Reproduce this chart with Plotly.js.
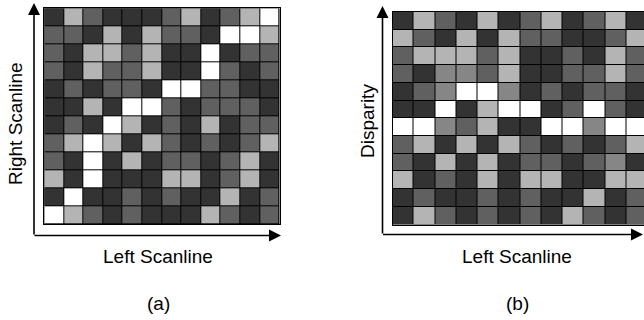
<!DOCTYPE html>
<html>
<head>
<meta charset="utf-8">
<script src="https://cdn.plot.ly/plotly-3.0.1.min.js"></script>
<style>html,body{margin:0;padding:0;background:#fff;}#chart{width:644px;height:320px;}</style>
</head>
<body>
<div id="chart"></div>
<script>
// Levels: 0 = dark, 1 = medium, 2 = mid-gray, 3 = light, 4 = white
var levelColors = ['#333333', '#606060', '#868686', '#b4b4b4', '#ffffff'];

// Panel (a): rows listed top to bottom
var gridA = [
  [0,3,1,0,0,0,1,3,0,1,3,4],
  [1,1,0,3,0,3,1,1,0,4,4,3],
  [1,0,3,3,1,3,0,0,4,0,1,1],
  [1,0,3,1,1,3,0,0,4,1,0,1],
  [0,1,0,1,1,0,4,4,1,1,0,0],
  [0,0,3,0,4,4,1,0,1,1,1,0],
  [0,1,0,4,3,0,1,0,3,0,1,1],
  [1,3,4,3,0,3,1,0,1,0,1,3],
  [1,0,4,0,3,0,1,1,0,1,3,0],
  [3,0,4,0,0,0,3,3,0,1,3,0],
  [0,4,0,0,1,0,1,0,0,3,0,1],
  [4,3,1,0,1,0,0,0,3,1,0,1]
];

// Panel (b): rows listed top to bottom
var gridB = [
  [0,3,1,0,3,0,1,3,0,1,3,0],
  [3,1,0,3,0,3,1,1,0,0,1,3],
  [1,3,3,3,1,3,0,0,1,0,3,1],
  [1,0,2,2,1,3,0,0,1,1,3,1],
  [0,1,2,4,4,2,0,1,0,1,1,0],
  [0,0,4,0,3,4,4,0,1,4,1,0],
  [4,4,2,1,3,0,0,4,4,2,4,4],
  [1,3,0,3,0,3,1,0,1,0,1,3],
  [1,0,3,0,3,0,1,1,0,1,2,0],
  [3,0,1,0,3,0,3,3,0,0,3,3],
  [0,1,0,0,1,0,1,0,0,3,0,1],
  [0,3,1,0,1,0,1,0,3,1,0,1]
];

var xLabel = 'Left Scanline';
var yLabelA = 'Right Scanline';
var yLabelB = 'Disparity';
var panelLabels = ['(a)', '(b)'];

var W = 644, H = 320;
function px(x){ return x / W; }
function py(y){ return 1 - y / H; }

var colorscale = levelColors.map(function(c, i){ return [i / (levelColors.length - 1), c]; });

var traces = [
  {type:'heatmap', z:gridA, xaxis:'x', yaxis:'y', colorscale:colorscale, zmin:0, zmax:4,
   showscale:false, xgap:1, ygap:1, hoverinfo:'skip'},
  {type:'heatmap', z:gridB, xaxis:'x2', yaxis:'y2', colorscale:colorscale, zmin:0, zmax:4,
   showscale:false, xgap:1, ygap:1, hoverinfo:'skip'}
];

function ax(domain, range){
  return {domain:domain, range:range, showgrid:false, zeroline:false, showticklabels:false,
          ticks:'', showline:true, mirror:true, linecolor:'#000', linewidth:1, fixedrange:true};
}

var font = {family:'Liberation Sans, Arial, sans-serif', size:19, color:'#000'};

function arrow(x0, y0, x1, y1){
  return {xref:'paper', yref:'paper', x:px(x1), y:py(y1), ax:x0 - x1, ay:y0 - y1,
          axref:'pixel', ayref:'pixel', text:'', showarrow:true, arrowhead:2,
          arrowsize:1.5, arrowwidth:1.6, arrowcolor:'#000', standoff:0, startstandoff:0};
}
function label(text, x, y, angle){
  return {xref:'paper', yref:'paper', x:px(x), y:py(y), text:text, showarrow:false,
          xanchor:'center', yanchor:'middle', textangle:angle || 0, font:font};
}

var layout = {
  width:W, height:H, margin:{l:0, r:0, t:0, b:0},
  paper_bgcolor:'#fff', plot_bgcolor:'#000', showlegend:false,
  xaxis: ax([px(44.3), px(279.5)], [-0.5, 11.5]),
  yaxis: ax([py(224.3), py(8.3)], [11.5, -0.5]),
  xaxis2: ax([px(392.5), 1], [-0.5, 11.33]),
  yaxis2: ax([py(224.5), py(12)], [11.5, -0.5]),
  annotations: [
    arrow(34, 236, 34, 3),
    arrow(33, 235.5, 281, 235.5),
    arrow(382.5, 235, 382.5, 6),
    arrow(381.5, 234.5, 643, 234.5),
    label(yLabelA, 16, 124, -90),
    label(yLabelB, 367, 121, -90),
    label(xLabel, 158, 256),
    label(xLabel, 517, 256),
    label(panelLabels[0], 158, 303),
    label(panelLabels[1], 517, 303)
  ]
};
layout.yaxis2.anchor = 'x2';
layout.xaxis2.anchor = 'y2';

Plotly.newPlot('chart', traces, layout, {staticPlot:true, displayModeBar:false});
</script>
</body>
</html>
